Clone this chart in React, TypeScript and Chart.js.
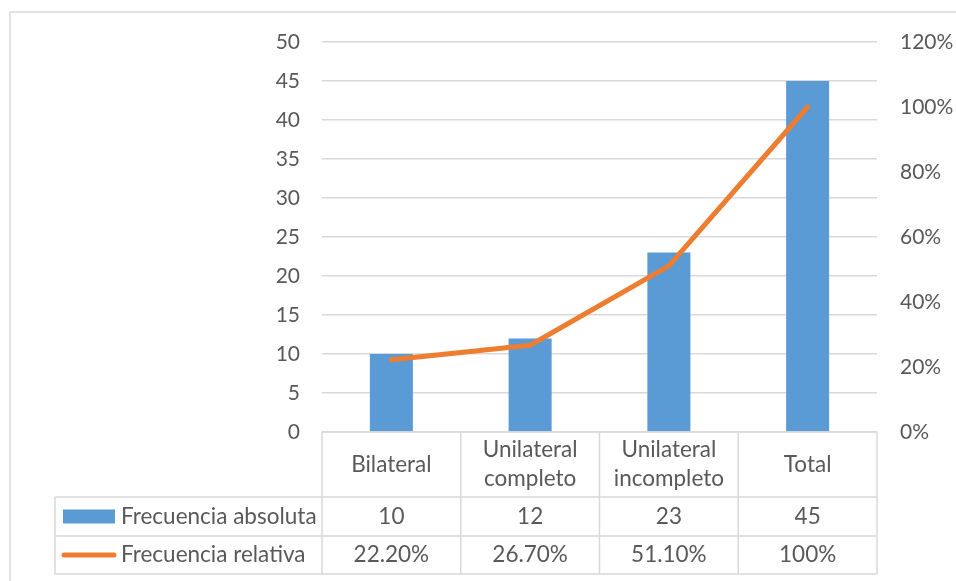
import React, { useEffect, useRef } from "react";
import { Chart, registerables } from "chart.js";

Chart.register(...registerables);

const categories: string[][] = [["Bilateral"], ["Unilateral", "completo"], ["Unilateral", "incompleto"], ["Total"]];
const absoluteValues: number[] = [10, 12, 23, 45];
const relativeValues: number[] = [0.222, 0.267, 0.511, 1.0];
const relativeLabels: string[] = ["22.20%", "26.70%", "51.10%", "100%"];
const seriesNames: string[] = ["Frecuencia absoluta", "Frecuencia relativa"];

const BLUE = "#5B9BD5";
const ORANGE = "#ED7D31";
const GRID = "#D9D9D9";
const TEXT = "#595959";
const FONT_FAMILY = "Lato, 'Noto Sans', sans-serif";
const FONT_SIZE = 21;
const TABLE_FONT_SIZE = 22.5;

const tablePlugin = {
  id: "dataTable",
  beforeDraw(chart: any) {
    const ctx = chart.ctx;
    ctx.save();
    ctx.fillStyle = "#FFFFFF";
    ctx.fillRect(0, 0, chart.width, chart.height);
    ctx.strokeStyle = GRID;
    ctx.lineWidth = 1.5;
    ctx.beginPath();
    ctx.moveTo(10, 12);
    ctx.lineTo(chart.width, 12);
    ctx.moveTo(10, 12);
    ctx.lineTo(10, chart.height);
    ctx.stroke();
    ctx.restore();
  },
  afterDraw(chart: any) {
    const ctx = chart.ctx;
    const area = chart.chartArea;
    const left = area.left;
    const right = area.right;
    const n = categories.length;
    const colW = (right - left) / n;
    const top = area.bottom;
    const headerBottom = top + 65;
    const row1Bottom = headerBottom + 39;
    const row2Bottom = row1Bottom + 38;
    const legendLeft = 55;

    ctx.save();
    ctx.strokeStyle = GRID;
    ctx.lineWidth = 1.5;
    ctx.beginPath();
    ctx.moveTo(left, top);
    ctx.lineTo(right, top);
    for (const y of [headerBottom, row1Bottom, row2Bottom]) {
      ctx.moveTo(legendLeft, y);
      ctx.lineTo(right, y);
    }
    for (let i = 0; i <= n; i++) {
      const x = left + i * colW;
      ctx.moveTo(x, top);
      ctx.lineTo(x, row2Bottom);
    }
    ctx.moveTo(legendLeft, headerBottom);
    ctx.lineTo(legendLeft, row2Bottom);
    ctx.stroke();

    ctx.fillStyle = TEXT;
    ctx.font = `${TABLE_FONT_SIZE}px ${FONT_FAMILY}`;
    ctx.textAlign = "center";
    ctx.textBaseline = "middle";
    const lineH = 29;
    for (let i = 0; i < n; i++) {
      const cx = left + (i + 0.5) * colW;
      const lines = categories[i];
      const midY = (top + headerBottom) / 2;
      lines.forEach((ln, j) => {
        const y = midY + (j - (lines.length - 1) / 2) * lineH;
        ctx.fillText(ln, cx, y);
      });
      ctx.fillText(String(absoluteValues[i]), cx, (headerBottom + row1Bottom) / 2);
      ctx.fillText(relativeLabels[i], cx, (row1Bottom + row2Bottom) / 2);
    }

    // legend keys
    const r1y = (headerBottom + row1Bottom) / 2;
    const r2y = (row1Bottom + row2Bottom) / 2;
    ctx.fillStyle = BLUE;
    ctx.fillRect(63, r1y - 7, 52, 14);
    ctx.strokeStyle = ORANGE;
    ctx.lineWidth = 5;
    ctx.lineCap = "round";
    ctx.beginPath();
    ctx.moveTo(64, r2y);
    ctx.lineTo(114, r2y);
    ctx.stroke();

    ctx.fillStyle = TEXT;
    ctx.textAlign = "left";
    ctx.fillText(seriesNames[0], 121, r1y);
    ctx.fillText(seriesNames[1], 121, r2y);
    ctx.restore();
  },
};

export default function App() {
  const ref = useRef<HTMLCanvasElement | null>(null);

  useEffect(() => {
    document.body.style.margin = "0";
    if (!ref.current) return;
    const chart = new Chart(ref.current, {
      type: "bar",
      data: {
        labels: categories,
        datasets: [
          {
            type: "line",
            label: seriesNames[1],
            data: relativeValues,
            yAxisID: "y1",
            borderColor: ORANGE,
            backgroundColor: ORANGE,
            borderWidth: 5,
            borderCapStyle: "round",
            borderJoinStyle: "round",
            pointRadius: 0,
            tension: 0,
            order: 0,
          } as any,
          {
            type: "bar",
            label: seriesNames[0],
            data: absoluteValues,
            yAxisID: "y",
            backgroundColor: BLUE,
            categoryPercentage: 1,
            barPercentage: 0.31,
            order: 1,
          },
        ],
      },
      options: {
        responsive: false,
        animation: false,
        layout: { padding: { top: 42, bottom: 149, left: 0, right: 0 } },
        plugins: { legend: { display: false }, tooltip: { enabled: false } },
        scales: {
          x: {
            display: false,
            offset: true,
            grid: { display: false },
          },
          y: {
            position: "left",
            min: 0,
            max: 50,
            ticks: {
              stepSize: 5,
              color: TEXT,
              padding: 22,
              font: { family: FONT_FAMILY, size: FONT_SIZE },
            },
            grid: { color: GRID, lineWidth: 1.5, drawTicks: false },
            border: { display: false },
            afterFit: (s: any) => {
              s.width = 322;
            },
          },
          y1: {
            position: "right",
            min: 0,
            max: 1.2,
            ticks: {
              stepSize: 0.2,
              color: TEXT,
              padding: 23,
              font: { family: FONT_FAMILY, size: FONT_SIZE },
              callback: (v: any) => `${Math.round(Number(v) * 100)}%`,
            },
            grid: { display: false, drawTicks: false },
            border: { display: false },
            afterFit: (s: any) => {
              s.width = 79;
            },
          },
        },
      },
      plugins: [tablePlugin],
    });
    return () => chart.destroy();
  }, []);

  return (
    <div style={{ position: "absolute", left: 0, top: 0, width: 956, height: 581, background: "#fff" }}>
      <canvas ref={ref} width={956} height={581} style={{ display: "block" }} />
    </div>
  );
}
